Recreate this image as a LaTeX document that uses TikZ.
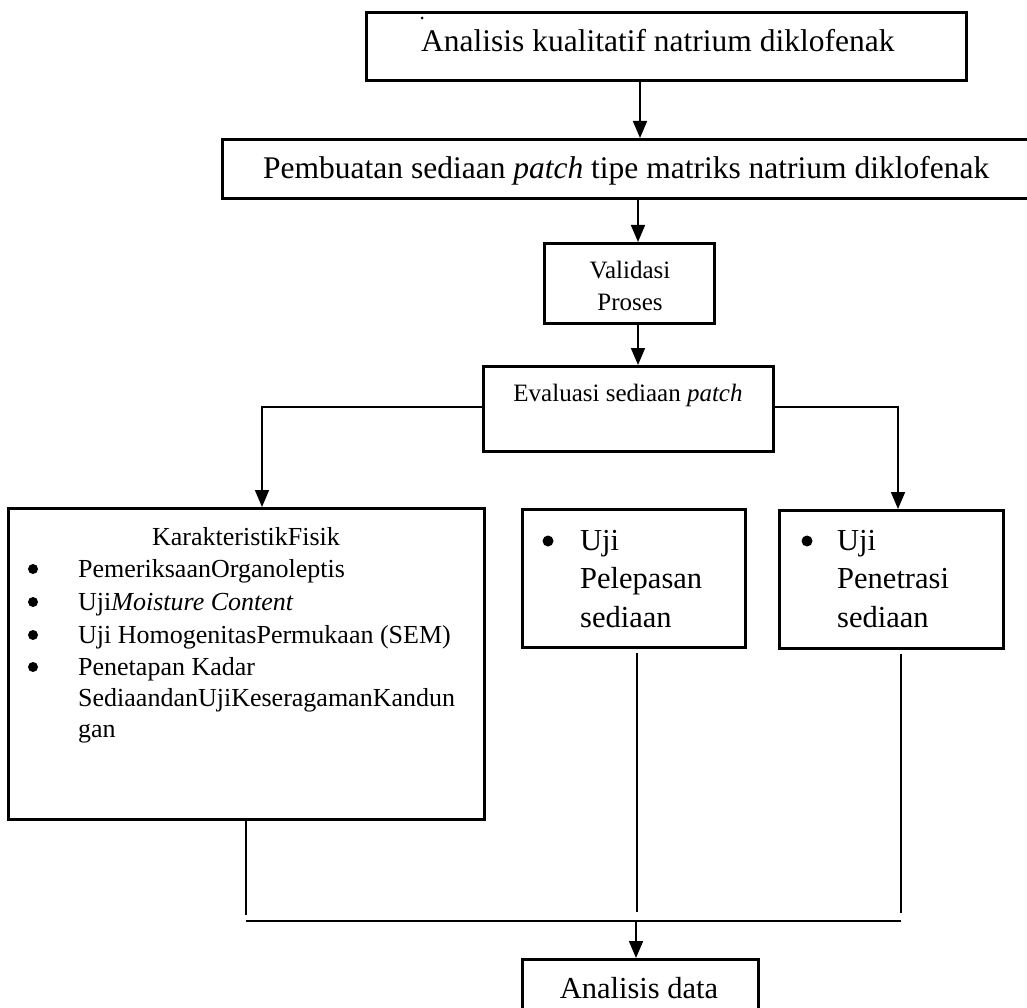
\documentclass[tikz,border=0pt]{standalone}
\usepackage{fontspec}
\setmainfont{Liberation Serif}
\usetikzlibrary{arrows.meta}
\tikzset{
  box/.style={draw, line width=2.6pt, inner sep=0pt, anchor=north west},
  arr/.style={line width=1.7pt, -{Triangle[width=14pt,length=17pt]}},
  thin/.style={line width=1.2pt},
  txt/.style={inner sep=0pt, anchor=base west},
  ctxt/.style={inner sep=0pt, anchor=base},
  bul/.style={fill, circle, inner sep=0pt, minimum size=10pt},
}
\newcommand{\fs}[1]{\fontsize{#1}{#1}\selectfont}
\begin{document}
\begin{tikzpicture}[x=1pt,y=-1pt]
\useasboundingbox (0,0) rectangle (1027,1008);
\clip (0,0) rectangle (1027,1008);
% boxes
\node[box, minimum width=600pt, minimum height=68pt] (b1) at (365,11) {};
\node[box, minimum width=820pt, minimum height=59pt] (b2) at (221,138) {};
\node[box, minimum width=170pt, minimum height=80pt] (val) at (543,242) {};
\node[box, minimum width=290pt, minimum height=85pt] (ev) at (482,365) {};
\node[box, minimum width=476pt, minimum height=311pt] (kf) at (7,507) {};
\node[box, minimum width=223pt, minimum height=138pt] (pl) at (521,508) {};
\node[box, minimum width=224pt, minimum height=138pt] (pn) at (778,509) {};
\node[box, minimum width=236pt, minimum height=70pt] (ad) at (521,958) {};
% texts
\node[txt] (t1) at (421,52) {\fs{31.5}Analisis kualitatif natrium diklofenak};
\node[txt] (t2) at (263,179) {\fs{31.5}Pembuatan sediaan \textit{patch} tipe matriks natrium diklofenak};
\node[ctxt] (tv1) at (630,278) {\fs{25}Validasi};
\node[ctxt] (tv2) at (630,310) {\fs{25}Proses};
\node[ctxt] (te) at (628,401) {\fs{25}Evaluasi sediaan \textit{patch}};
\node[ctxt] (k0) at (246,545) {\fs{26}KarakteristikFisik};
\foreach \y/\t [count=\i] in {577/PemeriksaanOrganoleptis, 610/Uji\textit{Moisture Content}, 643/Uji HomogenitasPermukaan (SEM), 675/Penetapan Kadar}{
  \node[txt] (k\i) at (78,\y) {\fs{26}\t};
  \node[bul] (kb\i) at (33,\y-8) {};
}
\node[txt] (k5) at (78,706) {\fs{26}SediaandanUjiKeseragamanKandun};
\node[txt] (k6) at (78,737) {\fs{26}gan};
\node[bul, minimum size=11pt] (pb) at (548,541) {};
\node[txt] (p1) at (580,550) {\fs{30.5}Uji};
\node[txt] (p2) at (580,588) {\fs{30.5}Pelepasan};
\node[txt] (p3) at (580,627) {\fs{30.5}sediaan};
\node[bul, minimum size=11pt] (qb) at (807,541) {};
\node[txt] (q1) at (837,550) {\fs{30.5}Uji};
\node[txt] (q2) at (837,588) {\fs{30.5}Penetrasi};
\node[txt] (q3) at (837,627) {\fs{30.5}sediaan};
\node[ctxt] (ta) at (639,998) {\fs{30.5}Analisis data};
\node[bul, minimum size=3pt] (dot) at (422,18) {};
% connectors
\draw[arr] (b1.south -| 640,0) -- (b2.north -| 640,0);
\draw[arr] (b2.south -| 638,0) -- (val.north -| 638,0);
\draw[arr] (val.south -| 638,0) -- (ev.north -| 638,0);
\coordinate (el) at (ev.west |- 0,407);
\coordinate (er) at (ev.east |- 0,407);
\draw[arr] (el) -| (kf.north -| 262,0);
\draw[arr] (er) -| (pn.north -| 898,0);
\coordinate (j1) at (246,921);
\coordinate (j2) at (637,912);
\coordinate (j3) at (901,921);
\coordinate (j4) at (636,921);
\draw[thin] (kf.south -| j1) -- (246,915);
\draw[thin] ([yshift=-4pt]pl.south -| j2) -- (j2);
\draw[thin] ([yshift=-4pt]pn.south -| j3) -- (901,913);
\draw[thin] (j1) -- (j3);
\draw[arr] (j4) -- (ad.north -| j4);
\end{tikzpicture}
\end{document}
